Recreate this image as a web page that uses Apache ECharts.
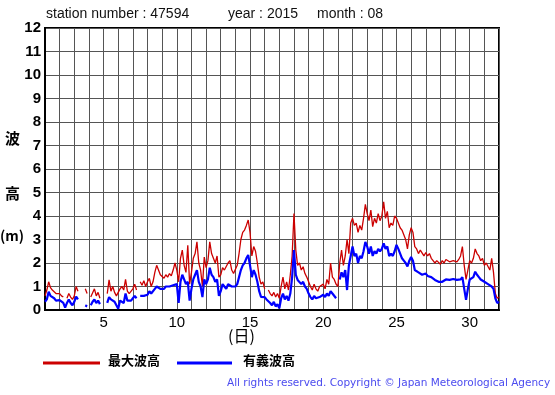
<!DOCTYPE html>
<html><head><meta charset="utf-8">
<script src="https://cdn.jsdelivr.net/npm/echarts@6/dist/echarts.min.js"></script>
<style>html,body{margin:0;padding:0;background:#fff}#c{width:555px;height:395px}</style>
</head><body><div id="c"></div>
<script>
// 3-hourly samples starting at day 1 00:00 (8 per day), last value at day 32 00:00
const stepsPerDay = 8;
const maxWave = [
 0.6,0.85,1.2,0.95,0.85,0.8,0.7,0.75,
 0.7,0.6,0.55,null,0.5,0.7,0.55,0.45,
 0.6,1.0,0.8,null,null,null,0.9,0.7,
 null,0.55,0.6,0.9,0.6,0.75,0.5,null,
 null,null,0.7,1.28,0.8,1.0,0.75,0.6,
 0.65,0.9,1.0,0.85,1.3,0.8,0.7,0.65,
 0.9,1.1,0.85,null,1.2,1.05,1.25,1.0,
 1.2,1.35,1.0,1.2,1.6,1.9,1.7,1.5,
 1.45,1.35,1.5,1.4,1.55,1.45,1.7,2.0,
 1.7,1.2,2.2,2.55,1.9,1.6,2.75,1.1,
 1.6,2.2,2.4,2.9,2.0,1.7,1.0,2.25,
 1.8,2.1,2.9,2.4,2.2,2.0,2.3,1.4,
 1.5,1.8,1.7,1.75,2.0,2.1,1.7,1.55,
 1.6,1.9,2.4,3.0,3.3,3.4,3.6,3.83,
 3.3,2.3,2.7,2.5,2.0,1.4,1.1,1.2,
 0.9,null,0.85,0.7,0.6,0.75,0.55,0.7,
 0.5,1.0,1.4,0.9,1.2,0.85,1.5,2.3,
 4.1,2.55,1.9,2.0,1.7,1.84,1.55,1.4,
 1.2,1.0,0.85,1.1,0.9,0.8,1.0,0.95,
 1.1,0.9,1.3,1.1,2.0,1.4,1.3,1.1,
 1.0,2.0,2.55,1.9,2.3,3.0,2.4,3.7,
 3.9,3.6,3.7,3.3,3.6,3.4,3.9,4.5,
 4.1,3.8,4.25,3.55,3.9,3.7,4.1,3.8,
 4.0,4.6,3.9,4.2,3.5,3.7,3.6,4.0,
 3.9,3.7,3.5,3.4,3.2,3.0,2.6,3.2,
 3.5,3.3,2.7,2.6,2.4,2.55,2.5,2.3,
 2.45,2.3,2.4,2.2,2.1,2.0,2.1,2.05,
 1.95,2.1,2.0,2.15,2.1,2.05,2.1,2.1,
 2.1,2.05,2.15,2.3,2.7,1.9,1.3,1.7,
 2.1,2.0,2.2,2.6,2.4,2.3,2.1,2.2,
 1.9,2.0,1.85,1.7,2.2,1.6,0.7,0.5,
 0.55
];
const sigWave = [
 0.35,0.45,0.78,0.6,0.55,0.5,0.4,0.45,
 0.42,0.4,0.3,0.1,0.3,0.45,0.3,0.2,
 0.35,0.57,0.45,null,null,null,0.2,0.15,
 null,0.2,0.35,0.45,0.3,0.4,0.25,null,
 null,null,0.3,0.55,0.45,0.5,0.35,0.3,
 0.05,0.4,0.45,0.3,0.7,0.4,0.35,0.4,
 0.5,0.6,0.5,null,0.6,0.55,0.6,0.55,
 0.65,0.8,0.7,0.75,0.9,1.0,0.95,0.9,
 0.95,0.9,1.0,0.95,1.0,0.95,1.05,1.1,
 1.1,0.3,1.2,1.5,1.3,1.1,1.2,0.4,
 0.9,1.3,1.5,1.7,1.2,1.0,0.55,1.3,
 1.1,1.3,1.8,1.5,1.4,1.2,1.3,0.6,
 0.8,1.1,1.0,0.9,1.1,1.15,1.0,0.95,
 1.0,1.1,1.4,1.7,1.9,2.0,2.2,2.34,
 1.9,1.4,1.7,1.5,1.2,0.8,0.56,0.6,
 0.55,0.45,0.4,0.3,0.2,0.35,0.15,0.25,
 0.07,0.5,0.7,0.45,0.6,0.4,0.7,1.4,
 2.55,1.5,1.28,1.3,1.1,1.2,1.0,0.9,
 0.7,0.55,0.45,0.6,0.5,0.43,0.55,0.6,
 0.65,0.55,0.7,0.6,0.8,0.7,0.75,0.5,
 null,1.3,1.6,1.4,1.7,0.85,1.9,2.3,
 2.7,2.3,2.4,2.0,2.3,2.2,2.5,2.9,
 2.7,2.4,2.7,2.3,2.5,2.4,2.6,2.5,
 2.6,2.84,2.6,2.7,2.3,2.4,2.3,2.5,
 2.77,2.6,2.4,2.2,2.1,2.0,1.85,2.1,
 2.25,2.1,1.7,1.65,1.6,1.55,1.5,1.5,
 1.55,1.45,1.45,1.4,1.35,1.28,1.25,1.2,
 1.15,1.2,1.25,1.3,1.3,1.28,1.3,1.32,
 1.3,1.28,1.35,1.3,1.4,0.9,0.43,0.9,
 1.3,1.35,1.4,1.63,1.5,1.4,1.3,1.35,
 1.2,1.15,1.1,1.05,1.0,0.9,0.5,0.3,
 0.35
];
const xTickLabels = [5,10,15,20,25,30];
const seriesNames = ['最大波高','有義波高'];
const titleParts = ['station number : 47594','year : 2015','month : 08'];

const toPairs = arr => arr.map((v,i)=>[1 + i/stepsPerDay, v]);

const chart = echarts.init(document.getElementById('c'), null, {renderer:'canvas'});
const FONT = '"Liberation Sans", Arial, sans-serif';
chart.setOption({
  animation:false,
  backgroundColor:'#fff',
  grid:{left:45,right:56,top:28,bottom:85,show:true,borderColor:'#000',borderWidth:2,backgroundColor:'transparent'},
  xAxis:{type:'value',min:1,max:32,interval:1,
    axisLine:{show:true,lineStyle:{color:'#000',width:2}},
    axisTick:{show:false},
    splitLine:{show:true,lineStyle:{color:'#555',width:1}},
    axisLabel:{color:'#000',fontSize:15,fontFamily:FONT,margin:5,
      formatter:v=>xTickLabels.includes(v)?String(v):''}
  },
  yAxis:{type:'value',min:0,max:12,interval:1,
    axisLine:{show:true,lineStyle:{color:'#000',width:2}},
    axisTick:{show:false},
    splitLine:{show:true,lineStyle:{color:'#555',width:1}},
    axisLabel:{color:'#000',fontSize:15,fontWeight:'bold',fontFamily:FONT,margin:4}
  },
  series:[
    {name:seriesNames[0],type:'line',data:toPairs(maxWave),showSymbol:false,connectNulls:false,
     lineStyle:{color:'#cc0000',width:1.3},itemStyle:{color:'#cc0000'},z:2},
    {name:seriesNames[1],type:'line',data:toPairs(sigWave),showSymbol:false,connectNulls:false,
     lineStyle:{color:'#0000ff',width:2.2},itemStyle:{color:'#0000ff'},z:3}
  ],
  graphic:[
    {type:'text',left:46,top:7,style:{text:titleParts[0],font:'14px '+FONT,fill:'#111'}},
    {type:'text',left:228,top:7,style:{text:titleParts[1],font:'14px '+FONT,fill:'#111'}},
    {type:'text',left:317,top:7,style:{text:titleParts[2],font:'14px '+FONT,fill:'#111'}},
    {type:'text',left:5,top:131,style:{text:'波',font:'bold 15px "Noto Sans CJK JP"',fill:'#000'}},
    {type:'text',left:5,top:186,style:{text:'高',font:'bold 15px "Noto Sans CJK JP"',fill:'#000'}},
    {type:'text',left:0,top:229,style:{text:'(m)',font:'bold 14px "Noto Sans CJK JP"',fill:'#000'}},
    {type:'text',left:228,top:328,style:{text:'(日)',font:'16px "Noto Sans CJK JP"',fill:'#000'}},
    {type:'line',shape:{x1:43,y1:363,x2:100,y2:363},style:{stroke:'#cc0000',lineWidth:3}},
    {type:'text',left:108,top:354,style:{text:seriesNames[0],font:'bold 13px "Noto Sans CJK JP"',fill:'#000'}},
    {type:'line',shape:{x1:177,y1:363,x2:232,y2:363},style:{stroke:'#0000ff',lineWidth:3}},
    {type:'text',left:243,top:354,style:{text:seriesNames[1],font:'bold 13px "Noto Sans CJK JP"',fill:'#000'}},
    {type:'text',left:227,top:378,style:{text:'All rights reserved. Copyright © Japan Meteorological Agency',font:'10.5px "DejaVu Sans", sans-serif',fill:'#4b4bef'}}
  ]
});
</script></body></html>
